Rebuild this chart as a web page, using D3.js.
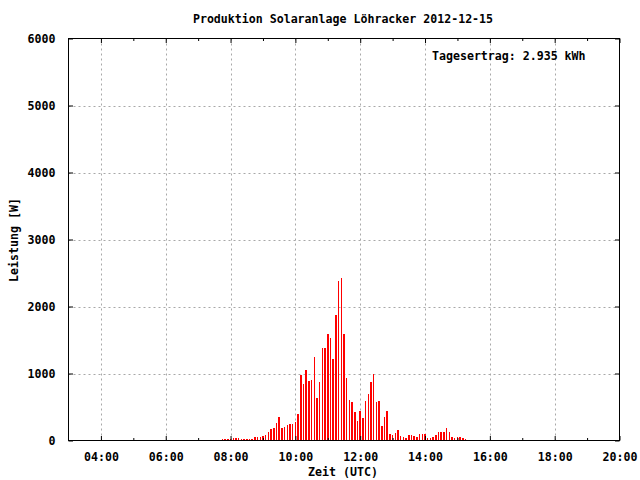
<!DOCTYPE html>
<html><head><meta charset="utf-8">
<script src="https://cdn.jsdelivr.net/npm/d3@7"></script>
<style>
html,body{margin:0;padding:0;background:#fff;}
svg text{font-family:"DejaVu Sans Mono",monospace;font-weight:bold;font-size:11.6px;fill:#000;}
</style></head>
<body>
<svg id="chart" width="640" height="480"></svg>
<script>
const title = "Produktion Solaranlage Löhracker 2012-12-15";
const xLabel = "Zeit (UTC)";
const yLabel = "Leistung [W]";
const annotation = "Tagesertrag: 2.935 kWh";
const xTickHours = [4, 6, 8, 10, 12, 14, 16, 18, 20];
const xMinorHours = [5, 7, 9, 11, 13, 15, 17, 19];
const yTicks = [0, 1000, 2000, 3000, 4000, 5000, 6000];
const times = ["07:45","07:50","07:55","08:00","08:05","08:10","08:15","08:20","08:25","08:30","08:35","08:40","08:45","08:50","08:55",
"09:00","09:05","09:10","09:15","09:20","09:25","09:30","09:35","09:40","09:45","09:50","09:55",
"10:00","10:05","10:10","10:15","10:20","10:25","10:30","10:35","10:40","10:45","10:50","10:55",
"11:00","11:05","11:10","11:15","11:20","11:25","11:30","11:35","11:40","11:45","11:50","11:55",
"12:00","12:05","12:10","12:15","12:20","12:25","12:30","12:35","12:40","12:45","12:50","12:55",
"13:00","13:05","13:10","13:15","13:20","13:25","13:30","13:35","13:40","13:45","13:50","13:55",
"14:00","14:05","14:10","14:15","14:20","14:25","14:30","14:35","14:40","14:45","14:50","14:55",
"15:00","15:05","15:10","15:15"];
const power = [15,15,15,15,30,30,30,15,15,15,15,15,45,45,45,
65,80,120,165,180,255,345,180,195,225,240,240,
270,390,985,850,1045,895,910,1240,640,880,1375,1375,
1585,1525,1210,1870,2375,2420,1585,940,610,570,420,285,
435,330,585,690,870,990,570,585,210,345,435,90,
75,105,150,60,45,30,75,75,60,45,90,90,
90,30,30,45,75,120,120,120,180,120,45,30,
45,45,30,15];

const L = 68.5, R = 619.5, T = 38.5, B = 440.5;
const svg = d3.select("#chart");
const toHours = s => { const [h, m] = s.split(":").map(Number); return h + m / 60; };
const x = d3.scaleLinear().domain([3, 20]).range([L, R]);
const y = d3.scaleLinear().domain([0, 6000]).range([B, T]);
const fmt = h => String(h).padStart(2, "0") + ":00";

// grid
const grid = svg.append("g").attr("stroke", "#a8a8a8").attr("stroke-width", 1).attr("stroke-dasharray", "2,3");
xTickHours.filter(h => h < 20).forEach(h => {
  grid.append("line").attr("x1", Math.round(x(h)) + 0.5).attr("x2", Math.round(x(h)) + 0.5).attr("y1", T).attr("y2", B);
});
yTicks.filter(v => v > 0 && v < 6000).forEach(v => {
  grid.append("line").attr("x1", L).attr("x2", R).attr("y1", Math.round(y(v)) + 0.5).attr("y2", Math.round(y(v)) + 0.5);
});

// bars
svg.append("g").selectAll("rect").data(times.map((t, i) => ({t: toHours(t), v: power[i]})))
  .join("rect")
  .attr("x", d => x(d.t) - 0.75).attr("width", 1.5)
  .attr("y", d => y(d.v)).attr("height", d => B - y(d.v))
  .attr("fill", "#ff0000").attr("shape-rendering", "crispEdges");

// axes via d3
const xAxisB = d3.axisBottom(x).tickValues(xTickHours).tickFormat(fmt).tickSizeInner(-4.5).tickSizeOuter(0).tickPadding(12);
svg.append("g").attr("transform", `translate(0,${B})`).call(xAxisB);
const xMinorB = d3.axisBottom(x).tickValues(xMinorHours).tickFormat("").tickSizeInner(-2.5).tickSizeOuter(0);
svg.append("g").attr("transform", `translate(0,${B})`).call(xMinorB);
const xAxisT = d3.axisTop(x).tickValues(xTickHours).tickFormat("").tickSizeInner(-4.5).tickSizeOuter(0);
svg.append("g").attr("transform", `translate(0,${T})`).call(xAxisT);
const xMinorT = d3.axisTop(x).tickValues(xMinorHours).tickFormat("").tickSizeInner(-2.5).tickSizeOuter(0);
svg.append("g").attr("transform", `translate(0,${T})`).call(xMinorT);
const yAxisL = d3.axisLeft(y).tickValues(yTicks).tickFormat(d3.format("d")).tickSizeInner(-4.5).tickSizeOuter(0).tickPadding(13);
svg.append("g").attr("transform", `translate(${L},0)`).call(yAxisL);
const yAxisR = d3.axisRight(y).tickValues(yTicks).tickFormat("").tickSizeInner(-4.5).tickSizeOuter(0);
svg.append("g").attr("transform", `translate(${R},0)`).call(yAxisR);
svg.selectAll(".tick line").attr("stroke", "#000");
svg.selectAll(".domain").remove();
svg.selectAll(".tick text").attr("font-family", null).attr("font-size", null);

// frame
svg.append("rect").attr("x", L).attr("y", T).attr("width", R - L).attr("height", B - T)
  .attr("fill", "none").attr("stroke", "#000").attr("stroke-width", 1);

// texts
svg.append("text").attr("x", 343).attr("y", 22.5).attr("text-anchor", "middle").text(title);
svg.append("text").attr("x", 343).attr("y", 476).attr("text-anchor", "middle").text(xLabel);
svg.append("text").attr("transform", "translate(18,240) rotate(-90)").attr("text-anchor", "middle").text(yLabel);
svg.append("text").attr("x", 432).attr("y", 59.5).text(annotation);
</script>
</body></html>
